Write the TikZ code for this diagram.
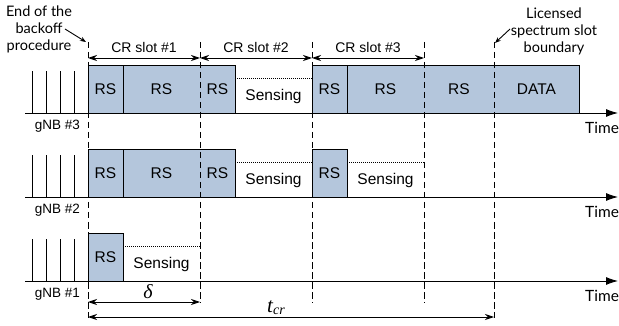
\documentclass[tikz,border=0pt]{standalone}
\usepackage{fontspec}
\setmainfont{Liberation Sans}
\newfontfamily\notefont{Lato}
\newfontfamily\symfont{Liberation Serif}
\usetikzlibrary{arrows.meta}
\definecolor{rsblue}{RGB}{180,198,220}

\begin{document}
\begin{tikzpicture}[x=1pt,y=-1pt,
  rsbox/.style={draw, line width=0.9pt, fill=rsblue, inner sep=0pt, outer sep=0pt,
    minimum height=48pt, anchor=south west, font=\fontsize{15.5}{17}\selectfont},
  senseline/.style={line width=0.8pt, dash pattern=on 1pt off 1pt},
  sensetxt/.style={font=\fontsize{15.5}{17}\selectfont, inner sep=0pt},
  axis/.style={line width=0.9pt, -{Latex[length=12pt,width=8pt]}},
  slotline/.style={line width=0.9pt, dash pattern=on 6.5pt off 3.5pt},
  seam/.style={line width=1.6pt, draw=rsblue},
  span/.style={line width=0.9pt, {Stealth[length=9pt,width=6pt]}-{Stealth[length=9pt,width=6pt]}},
  pointer/.style={line width=0.9pt, -{Stealth[length=6pt,width=4.5pt]}},
  tick/.style={line width=0.9pt},
  rowlabel/.style={font=\fontsize{13.5}{15}\selectfont, anchor=east, inner sep=0pt},
  timelabel/.style={font=\notefont\fontsize{15.5}{17}\selectfont, anchor=west, inner sep=0pt},
  slotlabel/.style={font=\fontsize{14}{15}\selectfont, inner sep=0pt},
  note/.style={font=\notefont\fontsize{14.5}{17}\selectfont, align=center, inner sep=0pt}]

\useasboundingbox (0,0) rectangle (619,326);

% ---- gNB #3 ----
\node[rsbox, minimum width=35pt] (b3a) at (88,113) {RS};
\node[rsbox, minimum width=77pt] (b3b) at (123,113) {RS};
\node[rsbox, minimum width=35pt] (b3c) at (200,113) {RS};
\node[rsbox, minimum width=35pt] (b3d) at (312,113) {RS};
\node[rsbox, minimum width=77pt] (b3e) at (347,113) {RS};
\node[rsbox, minimum width=70pt] (b3f) at (424,113) {RS};
\node[rsbox, minimum width=85pt] (b3g) at (494,113) {DATA};
\coordinate (s3a) at (235,78);
\coordinate (s3b) at (312,78);
\draw[senseline] (s3a) -- (s3b);
\node[sensetxt] (t3a) at (273.5,96) {Sensing};

% ---- gNB #2 ----
\node[rsbox, minimum width=35pt] (b2a) at (88,197) {RS};
\node[rsbox, minimum width=77pt] (b2b) at (123,197) {RS};
\node[rsbox, minimum width=35pt] (b2c) at (200,197) {RS};
\node[rsbox, minimum width=35pt] (b2d) at (312,197) {RS};
\coordinate (s2a) at (235,162);
\coordinate (s2b) at (312,162);
\coordinate (s2c) at (347,162);
\coordinate (s2d) at (424,162);
\draw[senseline] (s2a) -- (s2b);
\draw[senseline] (s2c) -- (s2d);
\node[sensetxt] (t2a) at (273.5,180) {Sensing};
\node[sensetxt] (t2b) at (385.5,180) {Sensing};

% ---- gNB #1 ----
\node[rsbox, minimum width=35pt] (b1a) at (88,281) {RS};
\coordinate (s1a) at (123,246);
\coordinate (s1b) at (200,246);
\draw[senseline] (s1a) -- (s1b);
\node[sensetxt] (t1a) at (161.5,264) {Sensing};

% ---- seams where a slot boundary splits two blocks ----
\draw[seam] ([yshift=-0.6pt]b3b.north east) -- ([yshift=0.6pt]b3b.south east);
\draw[seam] ([yshift=-0.6pt]b2b.north east) -- ([yshift=0.6pt]b2b.south east);
\draw[seam] ([yshift=-0.6pt]b3e.north east) -- ([yshift=0.6pt]b3e.south east);
\draw[seam] ([yshift=-0.6pt]b3f.north east) -- ([yshift=0.6pt]b3f.south east);

% ---- backoff ticks ----
\foreach \r in {113,197,281}{
  \foreach \x in {32,46,60,74}{
    \draw[tick] (\x,\r) -- (\x,\r-42);
  }
}

% ---- time axes ----
\coordinate (a3s) at (25,113);  \coordinate (a3e) at (618,113);
\coordinate (a2s) at (25,197);  \coordinate (a2e) at (618,197);
\coordinate (a1s) at (25,281);  \coordinate (a1e) at (618,281);
\draw[axis] (a3s) -- (a3e);
\draw[axis] (a2s) -- (a2e);
\draw[axis] (a1s) -- (a1e);
\node[timelabel] (tm3) at (585,128) {Time};
\node[timelabel] (tm2) at (585,212) {Time};
\node[timelabel] (tm1) at (585,296) {Time};
\node[rowlabel] (g3) at (80,126) {gNB \#3};
\node[rowlabel] (g2) at (80,210) {gNB \#2};
\node[rowlabel] (g1) at (80,294) {gNB \#1};

% ---- slot boundaries ----
\coordinate (d1t) at (88,42);  \coordinate (d1b) at (88,318);
\coordinate (d2t) at (200,42); \coordinate (d2b) at (200,303);
\coordinate (d3t) at (312,42); \coordinate (d3b) at (312,303);
\coordinate (d4t) at (424,42); \coordinate (d4b) at (424,303);
\coordinate (d5t) at (494,42); \coordinate (d5b) at (494,318);
\foreach \d in {1,...,5}{\draw[slotline] (d\d t) -- (d\d b);}

% ---- CR slot spans ----
\coordinate (c1) at (88,58);  \coordinate (c2) at (200,58);
\coordinate (c3) at (312,58); \coordinate (c4) at (424,58);
\draw[span] (c1) -- (c2);
\draw[span] (c2) -- (c3);
\draw[span] (c3) -- (c4);
\node[slotlabel] (l1) at (144,47) {CR slot \#1};
\node[slotlabel] (l2) at (256,47) {CR slot \#2};
\node[slotlabel] (l3) at (368,47) {CR slot \#3};

% ---- delta and t_cr ----
\coordinate (e1) at (88,302);  \coordinate (e2) at (200,302);
\coordinate (f1) at (88,317);  \coordinate (f2) at (494,317);
\draw[span] (e1) -- (e2);
\draw[span] (f1) -- (f2);
\node[font=\symfont\itshape\fontsize{20}{20}\selectfont, inner sep=0pt] (dl) at (148,292) {δ};
\node[font=\symfont\itshape\fontsize{21}{21}\selectfont, inner sep=0pt, anchor=base west] (tc) at (267,312)
  {t\raisebox{-2.5pt}{\fontsize{14}{14}\selectfont cr}};

% ---- annotations ----
\node[note] (n1) at (39,29) {End of the\\backoff\\procedure};
\coordinate (p1s) at (65,29); \coordinate (p1e) at (86,42);
\draw[pointer] (p1s) -- (p1e);
\node[note] (n2) at (554,31) {Licensed\\spectrum slot\\boundary};
\coordinate (p2s) at (510,29); \coordinate (p2e) at (495,43);
\draw[pointer] (p2s) -- (p2e);
\end{tikzpicture}
\end{document}
